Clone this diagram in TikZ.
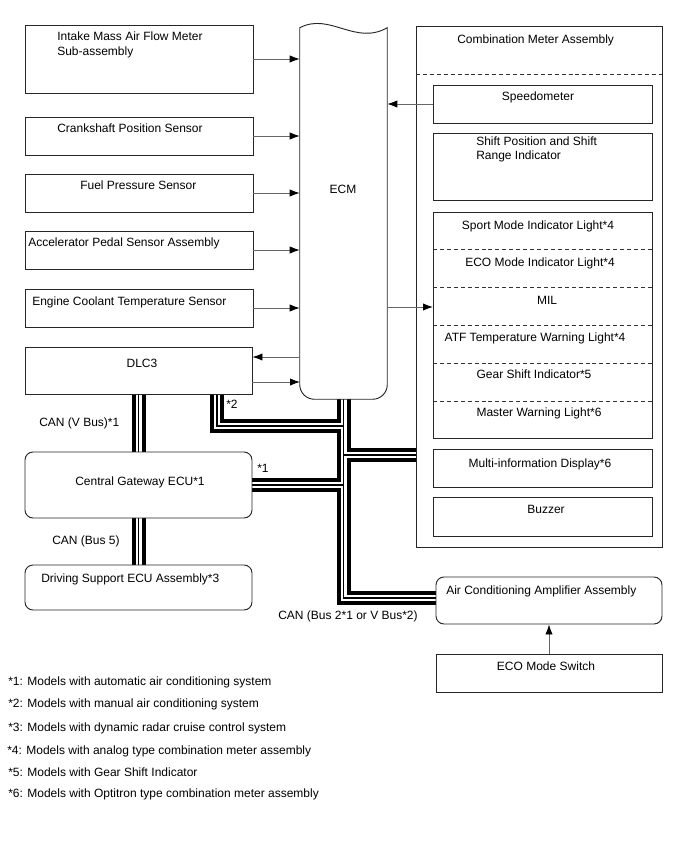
\documentclass[tikz,border=0pt]{standalone}
\usepackage{fontspec}
\setmainfont{Liberation Sans}
\usetikzlibrary{arrows.meta,fit}
\begin{document}
\begin{tikzpicture}[x=0.75pt,y=-0.75pt,
  box/.style={draw=black!85, line width=0.7pt, inner sep=0pt, fit={#1}},
  rbox/.style={box={#1}, rounded corners=6pt},
  hid/.style={inner sep=0pt, fit={#1}},
  txt/.style={inner sep=0pt, anchor=base west, font=\fontsize{9}{11.25}\selectfont},
  ctxt/.style={inner sep=0pt, anchor=base, font=\fontsize{9}{11.25}\selectfont},
  sig/.style={draw=black!60, line width=0.7pt, -{Latex[length=7.5pt,width=5.5pt,color=black]}},
  busA/.style={line width=10.5pt, black},
  busB/.style={line width=4.5pt, white},
  busC/.style={line width=0.9pt, black},
  sepl/.style={line width=0.6pt, dash pattern=on 3pt off 2.2pt, black!80}]
\useasboundingbox (0,0) rectangle (688,852);

% invisible frames
\node[hid={(300,28) (387,399)}] (ecm) {};
\node[hid={(25,347) (252,394)}] (dlc) {};
\node[hid={(25,452) (252,518)}] (gw) {};
\node[hid={(25,565) (252,610)}] (ds) {};
\node[hid={(436,577) (662,624)}] (acamp) {};

% bus junctions
\coordinate (jbot) at (343.5,598);
\coordinate (dlcb) at (217,394);
\coordinate (jdlc) at (217,426);
\coordinate (jcm) at (416,455);
\coordinate (jgw) at (252,485);

\newcommand\busnet[1]{%
  \draw[#1] (ecm.south) -- (jbot) -- (jbot -| acamp.west);
  \draw[#1] (dlcb) -- (jdlc) -- (jdlc -| ecm.south);
  \draw[#1] (jcm -| ecm.south) -- (jcm);
  \draw[#1] (jgw -| ecm.south) -- (jgw);
  \draw[#1] (dlc.south) -- (gw.north);
  \draw[#1] (gw.south) -- (ds.north);
}
\busnet{busA}
\busnet{busB}
\busnet{busC}

% left boxes
\node[box={(25,25) (253,93)}] (intake) {};
\node[box={(25,117) (253,155)}] (crank) {};
\node[box={(25,174) (253,212)}] (fuel) {};
\node[box={(25,231) (253,269)}] (accel) {};
\node[box={(25,289) (253,327)}] (engine) {};
\node[box={(25,347) (252,394)}] (dlcbox) {};
\node[rbox={(25,452) (252,518)}] (gwbox) {};
\node[rbox={(25,565) (252,610)}] (dsbox) {};

% ECM outline
\draw[draw=black!85, line width=0.7pt] (ecm.north west) .. controls (330,12) and (355,46) .. (ecm.north east)
  [rounded corners=11pt] -- (ecm.south east) -- (ecm.south west) [sharp corners] -- cycle;

% combination meter
\node[box={(416,26) (662,547)}] (cm) {};
\draw[sepl] (416,74) -- (662,74);
\node[box={(433,85) (652,123)}] (speedo) {};
\node[box={(433,133) (652,200)}] (shift) {};
\node[box={(433,212) (652,438)}] (lights) {};
\foreach \yy in {249,287,325,363,401} \draw[sepl] (433,\yy) -- (652,\yy);
\node[box={(433,449) (652,487)}] (mid) {};
\node[box={(433,497) (652,536)}] (buzz) {};

\node[rbox={(436,577) (662,624)}] (acbox) {};
\node[box={(436,654) (662,692)}] (eco) {};

% signal arrows
\draw[sig] (intake.east) -- (intake.east -| ecm.west);
\draw[sig] (crank.east) -- (crank.east -| ecm.west);
\draw[sig] (fuel.east) -- (fuel.east -| ecm.west);
\draw[sig] (accel.east) -- (accel.east -| ecm.west);
\draw[sig] (engine.east) -- (engine.east -| ecm.west);
\coordinate (d1) at (300,357);
\coordinate (d2) at (300,382);
\draw[sig] (d1) -- (d1 -| dlcbox.east);
\draw[sig] (d2 -| dlcbox.east) -- (d2);
\draw[sig] (speedo.west) -- (speedo.west -| ecm.east);
\coordinate (l1) at (433,307);
\draw[sig] (l1 -| ecm.east) -- (l1);
\draw[sig] (eco.north) -- (acbox.south);

% texts
\node[txt] (t1a) at (57,41) {Intake Mass Air Flow Meter};
\node[txt] (t1b) at (57,56) {Sub-assembly};
\node[txt] (t2) at (57,133) {Crankshaft Position Sensor};
\node[txt] (t3) at (80,190) {Fuel Pressure Sensor};
\node[txt] (t4) at (28,247) {Accelerator Pedal Sensor Assembly};
\node[txt] (t5) at (32,305) {Engine Coolant Temperature Sensor};
\node[ctxt] (t6) at (142,367) {DLC3};
\node[txt] (t7) at (39,426) {CAN (V Bus)*1};
\node[ctxt] (t8) at (140,485) {Central Gateway ECU*1};
\node[txt] (t9) at (52,544) {CAN (Bus 5)};
\node[txt] (t10) at (41,582) {Driving Support ECU Assembly*3};
\node[ctxt] (t11) at (343,194) {ECM};
\node[txt] (t12) at (226,408) {*2};
\node[txt] (t13) at (257,472) {*1};
\node[txt] (t14) at (278,619) {CAN (Bus 2*1 or V Bus*2)};
\node[txt] (t15) at (457,44) {Combination Meter Assembly};
\node[ctxt] (t16) at (538,101) {Speedometer};
\node[txt] (t17a) at (476,146) {Shift Position and Shift};
\node[txt] (t17b) at (476,160) {Range Indicator};
\node[ctxt] (t18) at (538,229) {Sport Mode Indicator Light*4};
\node[ctxt] (t19) at (540,266) {ECO Mode Indicator Light*4};
\node[ctxt] (t20) at (547,304) {MIL};
\node[ctxt] (t21) at (535,341) {ATF Temperature Warning Light*4};
\node[ctxt] (t22) at (534,378) {Gear Shift Indicator*5};
\node[ctxt] (t23) at (539,416) {Master Warning Light*6};
\node[ctxt] (t24) at (540,467) {Multi-information Display*6};
\node[ctxt] (t25) at (546,513) {Buzzer};
\node[txt] (t26) at (446,594) {Air Conditioning Amplifier Assembly};
\node[ctxt] (t27) at (546,670) {ECO Mode Switch};

\node[txt] (f1) at (8,685) {*1: Models with automatic air conditioning system};
\node[txt] (f2) at (8,707) {*2: Models with manual air conditioning system};
\node[txt] (f3) at (8,731) {*3: Models with dynamic radar cruise control system};
\node[txt] (f4) at (7,754) {*4: Models with analog type combination meter assembly};
\node[txt] (f5) at (8,776) {*5: Models with Gear Shift Indicator};
\node[txt] (f6) at (8,797) {*6: Models with Optitron type combination meter assembly};
\end{tikzpicture}
\end{document}
